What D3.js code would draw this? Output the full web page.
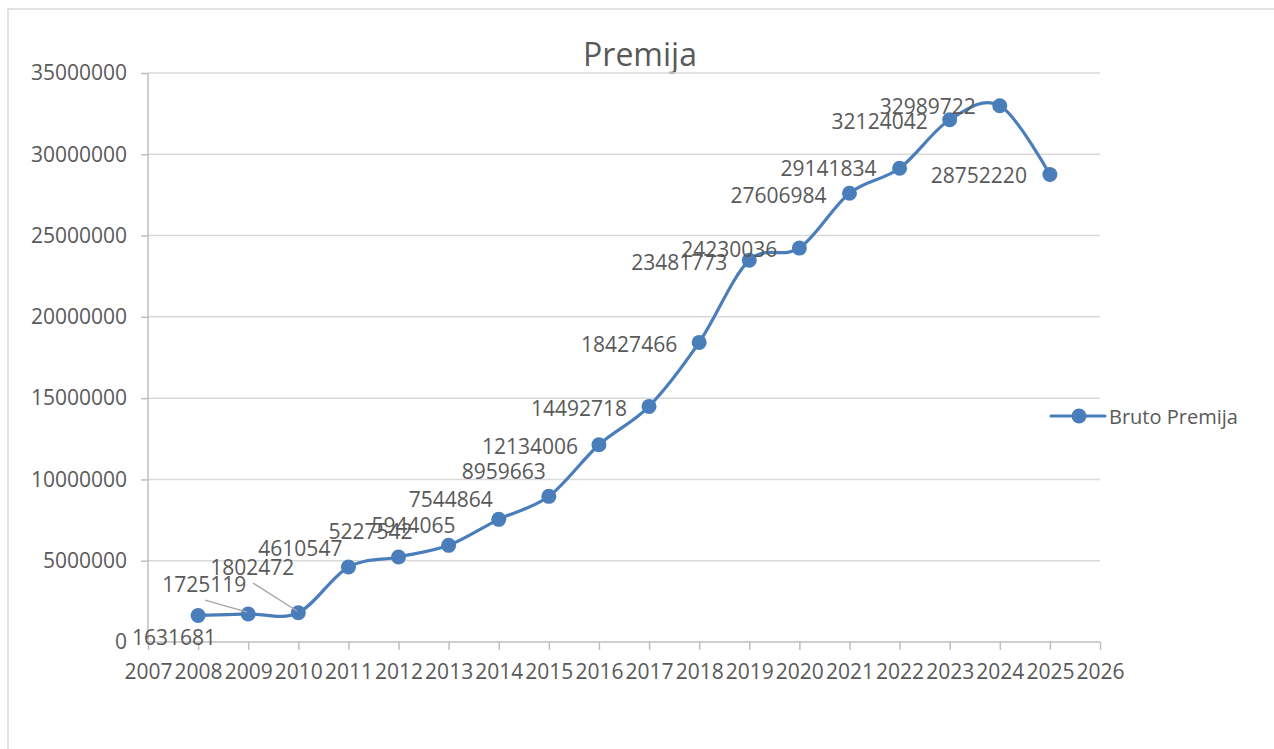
<!DOCTYPE html>
<html>
<head>
<meta charset="utf-8">
<script src="https://cdn.jsdelivr.net/npm/d3@7"></script>
<style>
  body { margin: 0; background: #fff; }
  text { font-family: "Open Sans", sans-serif; fill: #595959; }
</style>
</head>
<body>
<svg width="1274" height="749"></svg>
<script>
const years = [2008, 2009, 2010, 2011, 2012, 2013, 2014, 2015, 2016, 2017, 2018, 2019, 2020, 2021, 2022, 2023, 2024, 2025];
const premija = [1631681, 1725119, 1802472, 4610547, 5227542, 5944065, 7544864, 8959663, 12134006, 14492718,
                 18427466, 23481773, 24230036, 27606984, 29141834, 32124042, 32989722, 28752220];
const yTicks = [0, 5000000, 10000000, 15000000, 20000000, 25000000, 30000000, 35000000];
const xTicks = d3.range(2007, 2027);

// label placement (offset of the label's right edge / middle from the point)
const labelOffsets = [[18, 22], [-2, -30], [-4, -46], [-6, -19], [14, -26], [7, -20], [-6, -20], [-3, -25],
                      [-21, 1], [-22, 2], [-22, 2], [-22, 2], [-22, 1], [-23, 2], [-23, 0], [-22, 1], [-24, 0], [-23, 0]];
// leader lines for the labels that were dragged away
const leaders = {1: [[205, 600], [247, 612]], 2: [[253, 583], [297, 611]]};

const svg = d3.select("svg"),
      margin = {top: 73, right: 174, bottom: 107, left: 148},
      width = 1274 - margin.left - margin.right,
      height = 749 - margin.top - margin.bottom;

// chart frame
svg.append("rect").attr("x", 8).attr("y", 9).attr("width", 1300).attr("height", 800)
  .attr("fill", "none").attr("stroke", "#d9d9d9").attr("stroke-width", 1.5);

svg.append("text").attr("x", 640).attr("y", 66).attr("text-anchor", "middle")
  .style("font-size", "32px").text("Premija");

const g = svg.append("g").attr("transform", `translate(${margin.left},${margin.top})`);

const x = d3.scaleLinear().domain([2007, 2026]).range([0, width]);
const y = d3.scaleLinear().domain([0, 35000000]).range([height, 0]);

// gridlines
g.append("g").selectAll("line").data(yTicks.slice(1)).enter().append("line")
  .attr("x1", 0).attr("x2", width).attr("y1", d => y(d)).attr("y2", d => y(d))
  .attr("stroke", "#d9d9d9").attr("stroke-width", 1.5);

const yAxis = g.append("g")
  .call(d3.axisLeft(y).tickValues(yTicks).tickSize(7).tickPadding(14).tickFormat(d3.format("d")));
yAxis.select(".domain").attr("stroke", "#bfbfbf").attr("stroke-width", 1.5).attr("d", `M0,0V${height}`);
yAxis.selectAll(".tick line").attr("stroke", "#bfbfbf").attr("stroke-width", 1.5);
yAxis.selectAll(".tick text").style("font-size", "21px").attr("fill", "#595959");
yAxis.selectAll(".tick").filter(d => d === 0).select("line").remove();

const xAxis = g.append("g").attr("transform", `translate(0,${height})`)
  .call(d3.axisBottom(x).tickValues(xTicks).tickSize(8).tickPadding(14).tickFormat(d3.format("d")));
xAxis.select(".domain").attr("stroke", "#bfbfbf").attr("stroke-width", 1.5).attr("d", `M0,0H${width}`);
xAxis.selectAll(".tick line").attr("stroke", "#bfbfbf").attr("stroke-width", 1.5);
xAxis.selectAll(".tick text").style("font-size", "21px").attr("fill", "#595959");

const data = years.map((yr, i) => ({year: yr, value: premija[i], off: labelOffsets[i]}));

const color = "#4a7ebb";
const line = d3.line().x(d => x(d.year)).y(d => y(d.value)).curve(d3.curveCatmullRom.alpha(0));

g.append("path").datum(data).attr("d", line)
  .attr("fill", "none").attr("stroke", color).attr("stroke-width", 3.2).attr("stroke-linecap", "round");

g.selectAll("circle.pt").data(data).enter().append("circle").attr("class", "pt")
  .attr("cx", d => x(d.year)).attr("cy", d => y(d.value)).attr("r", 7.5).attr("fill", color);

// leader lines
Object.values(leaders).forEach(p => {
  svg.append("line").attr("x1", p[0][0]).attr("y1", p[0][1]).attr("x2", p[1][0]).attr("y2", p[1][1])
    .attr("stroke", "#a6a6a6").attr("stroke-width", 1.3);
});

g.selectAll("text.lbl").data(data).enter().append("text").attr("class", "lbl")
  .attr("x", d => x(d.year) + d.off[0]).attr("y", d => y(d.value) + d.off[1])
  .attr("text-anchor", "end").attr("dominant-baseline", "central")
  .style("font-size", "21px").attr("fill", "#404040")
  .text(d => d.value);

// legend
const lg = svg.append("g").attr("transform", "translate(1051,416)");
lg.append("line").attr("x1", 0).attr("x2", 54).attr("stroke", color).attr("stroke-width", 3.2).attr("stroke-linecap", "round");
lg.append("circle").attr("cx", 28).attr("r", 7.5).attr("fill", color);
lg.append("text").attr("x", 58).attr("dominant-baseline", "central").style("font-size", "20px").text("Bruto Premija");
</script>
</body>
</html>
